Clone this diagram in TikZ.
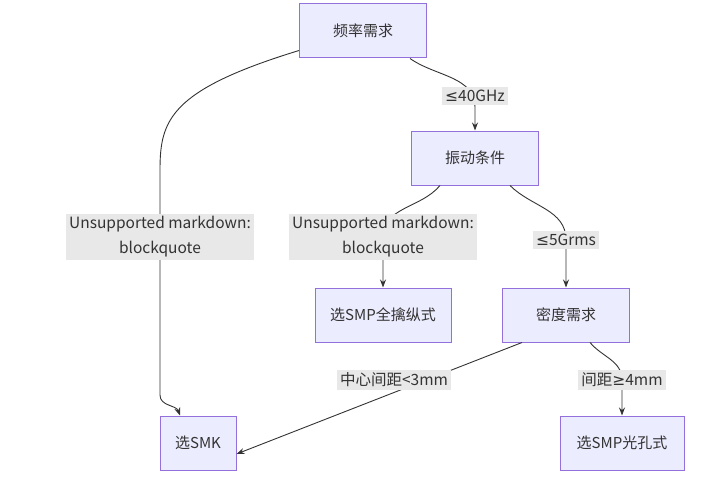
\documentclass[tikz,border=0pt]{standalone}
\usepackage{fontspec}
\setmainfont{Noto Sans CJK SC}
\newfontfamily\symfont{DejaVu Sans}
\usetikzlibrary{arrows.meta,positioning}
\definecolor{nodefill}{HTML}{ECECFF}
\definecolor{nodeline}{HTML}{9370DB}
\definecolor{edgecol}{HTML}{333333}
\definecolor{lblfill}{HTML}{E8E8E8}
\tikzstyle{stepbox}=[rectangle, draw=nodeline, fill=nodefill, line width=1pt, minimum height=54pt, inner xsep=15pt, font=\fontsize{15}{18}\selectfont, text=edgecol]
\tikzstyle{lbl}=[fill=lblfill, inner sep=3pt, align=center, font=\fontsize{15.5}{25}\selectfont, text=edgecol]
\tikzstyle{arr}=[-{Stealth[length=8pt,width=6pt]}, draw=edgecol, line width=0.9pt]

\begin{document}
\begin{tikzpicture}[x=1pt,y=-1pt]
\useasboundingbox (0,0) rectangle (727,476);

\node[stepbox, minimum width=127pt](req) at (363,31) {频率需求};
\node[stepbox, minimum width=127pt](vib) at (475,158) {振动条件};
\node[stepbox, minimum width=136pt](smpa) at (383,315) {选SMP全擒纵式};
\node[stepbox, minimum width=127pt](den) at (566,315) {密度需求};
\node[stepbox, minimum width=76pt](smk) at (198,443) {选SMK};
\node[stepbox, minimum width=124pt](smpb) at (622,443) {选SMP光孔式};

\coordinate (la) at (160,237);
\coordinate (lb) at (383,237);

\draw[arr] ([yshift=8]req.south west) .. controls (170,90) and (160,120) .. (160,170) -- (la) -- (160,395) to[out=-90,in=110] ([xshift=-18]smk.north);
\draw[arr] ([xshift=-17]req.south east) to[out=-35,in=90] (475,108) -- (vib.north);
\draw[arr] ([xshift=-35]vib.south) to[out=-130,in=90] (lb) -- (smpa.north);
\draw[arr] ([xshift=-29]vib.south east) to[out=-45,in=90] (566,240) -- (den.north);
\draw[arr] ([xshift=20]den.south west) -- ([yshift=-11]smk.east);
\draw[arr] ([xshift=-40]den.south east) to[out=-50,in=90] (622,380) -- (smpb.north);

\node[lbl] (lbla) at (la) {Unsupported markdown:\\blockquote};
\node[lbl] (lblb) at (lb) {Unsupported markdown:\\blockquote};
\node[lbl] (lbl40) at (475,96) {{\symfont ≤}40GHz};
\node[lbl] (lbl5) at (566,240) {{\symfont ≤}5Grms};
\node[lbl] (lblmid) at (394,380) {中心间距<3mm};
\node[lbl] (lbl4) at (622,380) {间距{\symfont ≥}4mm};

\end{tikzpicture}
\end{document}
